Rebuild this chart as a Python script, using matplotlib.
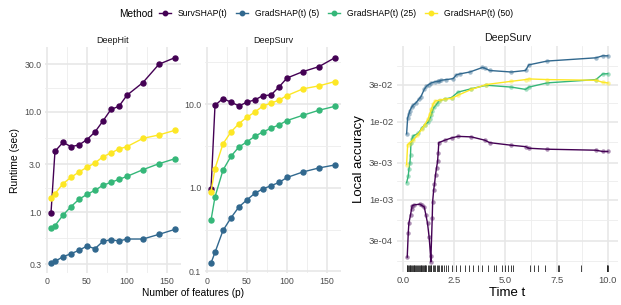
import matplotlib
matplotlib.use("Agg")
import matplotlib.pyplot as plt
from matplotlib.lines import Line2D
from matplotlib.ticker import FixedLocator, NullFormatter

plt.rcParams['font.family'] = ['Liberation Sans', 'DejaVu Sans']

methods = ["SurvSHAP(t)", "GradSHAP(t) (5)", "GradSHAP(t) (25)", "GradSHAP(t) (50)"]
colors = ["#440154", "#31688E", "#35B779", "#FDE725"]

n_features = [5, 10, 20, 30, 40, 50, 60, 70, 80, 90, 100, 120, 140, 160]

# runtime (sec), DeepHit
hit_surv = [0.97, 4.04, 4.97, 4.5, 4.68, 5.29, 6.31, 8.13, 10.6, 11.4, 14.7, 19.7, 30.0, 34.9]
hit_g5 = [0.309, 0.321, 0.357, 0.383, 0.414, 0.457, 0.43, 0.509, 0.529, 0.513, 0.537, 0.537, 0.598, 0.671]
hit_g25 = [0.70, 0.73, 0.93, 1.13, 1.34, 1.5, 1.65, 1.85, 1.98, 2.12, 2.27, 2.65, 3.04, 3.41]
hit_g50 = [1.38, 1.52, 1.92, 2.22, 2.51, 2.8, 3.09, 3.57, 3.89, 4.27, 4.5, 5.45, 5.89, 6.56]

# runtime (sec), DeepSurv
surv_surv = [0.96, 9.73, 11.7, 10.6, 9.55, 10.6, 11.3, 12.7, 12.9, 16.1, 20.6, 24.6, 28.2, 36.1]
surv_g5 = [0.126, 0.169, 0.309, 0.438, 0.593, 0.719, 0.864, 0.973, 1.06, 1.16, 1.33, 1.55, 1.73, 1.88]
surv_g25 = [0.41, 0.78, 1.63, 2.39, 3.09, 3.55, 4.15, 4.67, 5.17, 5.66, 6.38, 7.39, 8.48, 9.46]
surv_g50 = [0.90, 1.70, 3.36, 4.67, 5.87, 7.0, 8.09, 9.55, 10.3, 11.2, 12.7, 15.3, 16.6, 18.7]

# local accuracy over time, DeepSurv
t_p = [0.21, 0.26, 0.29, 0.37, 0.42, 0.45, 0.55, 0.83, 0.91, 1.04, 1.12, 1.20, 1.28, 1.35, 1.36,
       1.43, 1.45, 1.50, 1.54, 1.59, 1.64, 1.69, 1.72, 1.75, 2.04, 2.37, 2.69, 3.34, 4.00, 4.23,
       5.29, 5.98, 6.14, 7.04, 9.42, 9.74, 9.99]
acc_p = [1.84e-4, 3.76e-4, 5.0e-4, 6.4e-4, 7.6e-4, 8.4e-4, 8.6e-4, 8.8e-4, 8.5e-4, 8.1e-4, 6.4e-4,
         5.0e-4, 3.3e-4, 1.9e-4, 1.6e-4, 5.9e-4, 9.5e-4, 1.34e-3, 1.58e-3, 2.1e-3, 2.57e-3, 3.1e-3,
         4.0e-3, 5.4e-3, 5.8e-3, 6.2e-3, 6.5e-3, 6.4e-3, 5.8e-3, 5.4e-3, 5.0e-3, 4.8e-3, 4.58e-3,
         4.45e-3, 4.32e-3, 4.16e-3, 4.16e-3]
t_b = [0.18, 0.23, 0.29, 0.34, 0.42, 0.50, 0.62, 0.78, 0.88, 1.04, 1.15, 1.26, 1.39, 1.56, 1.69,
       1.77, 1.85, 2.12, 2.45, 2.61, 2.77, 3.26, 3.88, 3.99, 4.23, 5.29, 5.98, 6.14, 7.04, 9.42,
       9.74, 9.99]
acc_b = [0.0070, 0.0112, 0.0126, 0.0139, 0.0153, 0.0164, 0.0173, 0.0195, 0.021, 0.026, 0.0286,
         0.030, 0.0315, 0.0325, 0.033, 0.033, 0.034, 0.0347, 0.0357, 0.040, 0.041, 0.0434, 0.0496,
         0.0486, 0.0454, 0.0434, 0.0454, 0.0536, 0.060, 0.066, 0.070, 0.070]
t_g = [0.18, 0.26, 0.29, 0.34, 0.37, 0.39, 0.45, 0.50, 0.75, 0.91, 1.07, 1.23, 1.31, 1.39, 1.44,
       1.52, 1.64, 1.75, 2.04, 2.37, 2.69, 3.34, 4.07, 5.29, 5.98, 6.14, 7.04, 9.42, 9.74, 9.99]
acc_g = [0.00166, 0.00202, 0.00245, 0.00297, 0.00377, 0.0053, 0.0061, 0.0066, 0.0071, 0.0082,
         0.0092, 0.0099, 0.0109, 0.0123, 0.0139, 0.0153, 0.0168, 0.0185, 0.0195, 0.0204, 0.024,
         0.0265, 0.0294, 0.0278, 0.026, 0.0278, 0.0315, 0.0347, 0.041, 0.0413]
t_y = [0.18, 0.23, 0.34, 0.50, 0.71, 0.91, 1.07, 1.23, 1.31, 1.39, 1.47, 1.58, 1.80, 2.04, 2.37,
       2.69, 3.34, 4.07, 5.29, 5.98, 6.14, 7.04, 9.42, 9.74, 9.99]
acc_y = [0.00283, 0.0051, 0.0054, 0.0058, 0.0067, 0.0080, 0.0092, 0.0109, 0.0126, 0.0146, 0.0168,
         0.0185, 0.0189, 0.0195, 0.0199, 0.0219, 0.026, 0.030, 0.033, 0.0347, 0.0354, 0.0347,
         0.034, 0.0321, 0.0315]

# event times shown as rug
event_times = [0.18, 0.22, 0.26, 0.29, 0.33, 0.36, 0.40, 0.44, 0.47, 0.52, 0.56, 0.60, 0.64, 0.69,
               0.73, 0.78, 0.82, 0.86, 0.90, 0.93, 0.97, 1.02, 1.06, 1.10, 1.15, 1.20, 1.26, 1.31,
               1.35, 1.39, 1.45, 1.52, 1.58, 1.64, 1.72, 1.78, 1.85, 1.93, 2.02, 2.12, 2.20, 2.40,
               2.61, 2.77, 3.02, 3.21, 3.42, 3.66, 3.86, 4.15, 4.45, 4.55, 4.84, 4.97, 5.13, 5.29,
               5.38, 6.18, 6.40, 6.57, 6.91, 7.56, 7.61, 8.69, 9.94, 9.97, 10.0]

x_major = [0, 50, 100, 150]
x_minor = [25, 75, 125]
hit_yticks = [0.3, 1, 3, 10, 30]
hit_ylabels = ["0.3", "1.0", "3.0", "10.0", "30.0"]
surv_yticks = [0.1, 1, 10]
surv_ylabels = ["0.1", "1.0", "10.0"]
t_major = [0, 2.5, 5, 7.5, 10]
t_labels = ["0.0", "2.5", "5.0", "7.5", "10.0"]
t_minor = [1.25, 3.75, 6.25, 8.75]
acc_yticks = [3e-4, 1e-3, 3e-3, 1e-2, 3e-2]
acc_ylabels = ["3e-04", "1e-03", "3e-03", "1e-02", "3e-02"]


def minor_log(ticks):
    # ggplot style minor breaks: halfway (in log space) between majors, one step beyond each end
    import numpy as np
    lt = np.log10(ticks)
    mids = list((lt[:-1] + lt[1:]) / 2)
    mids = [lt[0] - (lt[1] - lt[0]) / 2] + mids + [lt[-1] + (lt[-1] - lt[-2]) / 2]
    return [10 ** m for m in mids]


def style(ax, xt, xl, xm, yt, yl, fs):
    ax.set_yscale("log")
    ax.xaxis.set_major_locator(FixedLocator(xt))
    ax.set_xticklabels(xl)
    ax.xaxis.set_minor_locator(FixedLocator(xm))
    ax.yaxis.set_major_locator(FixedLocator(yt))
    ax.set_yticklabels(yl)
    ax.yaxis.set_minor_locator(FixedLocator(minor_log(yt)))
    ax.yaxis.set_minor_formatter(NullFormatter())
    ax.grid(True, which="major", color="#E6E6E6", lw=1.1)
    ax.grid(True, which="minor", color="#EDEDED", lw=0.6)
    ax.set_axisbelow(True)
    for s in ax.spines.values():
        s.set_visible(False)
    ax.tick_params(which="both", length=0, labelsize=fs, labelcolor="#4D4D4D", pad=2.5)


fig = plt.figure(figsize=(6.21, 3.05), dpi=100)
ax1 = fig.add_axes([0.0721, 0.1039, 0.2196, 0.7407])
ax2 = fig.add_axes([0.3298, 0.1039, 0.2196, 0.7407])
ax3 = fig.add_axes([0.6386, 0.1075, 0.3565, 0.7433])

for ax, series, title in [(ax1, [hit_surv, hit_g5, hit_g25, hit_g50], "DeepHit"),
                          (ax2, [surv_surv, surv_g5, surv_g25, surv_g50], "DeepSurv")]:
    for ys, c in zip(series, colors):
        ax.plot(n_features, ys, color=c, lw=1.0, marker="o", ms=3.6)
    ax.set_xlim(-2.75, 167.75)
    ax.set_title(title, fontsize=6.5, color="#1A1A1A", pad=3)

style(ax1, x_major, [str(v) for v in x_major], x_minor, hit_yticks, hit_ylabels, 6.3)
style(ax2, x_major, [str(v) for v in x_major], x_minor, surv_yticks, surv_ylabels, 6.3)
ax1.set_ylabel("Runtime (sec)", fontsize=7.5, labelpad=3)
fig.text(0.3105, 0.039, "Number of features (p)", fontsize=7.3, ha="center", va="center")

for tt, aa, c in [(t_p, acc_p, colors[0]), (t_b, acc_b, colors[1]),
                  (t_g, acc_g, colors[2]), (t_y, acc_y, colors[3])]:
    ax3.plot(tt, aa, "o", color=c, ms=3.2, alpha=0.45, mec="none")
    ax3.plot(tt, aa, color=c, lw=1.0)
ax3.set_yscale("log")
ylim3 = ax3.get_ylim()
ax3.vlines(event_times, 0, 0.03, transform=ax3.get_xaxis_transform(), color="#222222", lw=0.6)
ax3.set_ylim(ylim3)
ax3.set_xlim(-0.31, 10.49)
style(ax3, t_major, t_labels, t_minor, acc_yticks, acc_ylabels, 6.8)
ax3.set_title("DeepSurv", fontsize=7.6, color="#1A1A1A", pad=3.5)
ax3.set_xlabel("Time t", fontsize=9.5, labelpad=2)
ax3.set_ylabel("Local accuracy", fontsize=9.5, labelpad=3)

# legend across the top
fig.text(119 / 621, 1 - 14 / 305, "Method", fontsize=7.3, ha="left", va="center")
handles = [Line2D([], [], color=c, lw=1.0, marker="o", ms=3.2) for c in colors]
fig.legend(handles, methods, loc="center left", bbox_to_anchor=(159 / 621, 1 - 14 / 305),
           ncol=4, frameon=False, fontsize=6.2, handlelength=1.4, handletextpad=0.8,
           columnspacing=1.0, borderpad=0, borderaxespad=0)

fig.savefig("out.png", dpi=100)
